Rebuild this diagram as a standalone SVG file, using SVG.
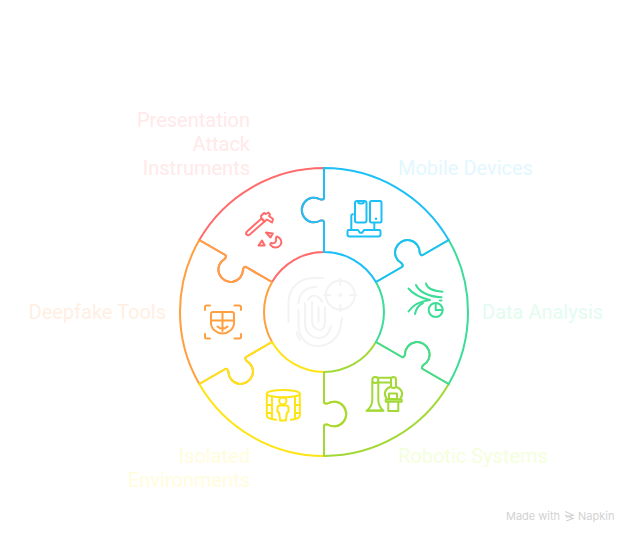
<svg xmlns="http://www.w3.org/2000/svg" xmlns:xlink="http://www.w3.org/1999/xlink" width="636" height="540" viewBox="0 0 636 540">
<style>
text{font-family:Roboto,"Liberation Sans",sans-serif;font-size:20px}
.e{text-anchor:end}
.seg,.ic{fill:none;stroke-linecap:round;stroke-linejoin:round}
.seg{stroke-width:2}
.ic{stroke-width:2}
.red{stroke:#FF6B6B}.org{stroke:#FF9F40}.yel{stroke:#FFE414}.lim{stroke:#A2D936}.grn{stroke:#3DDC97}.blu{stroke:#1CC0F6}
.fp{fill:none;stroke:#F3F3F3;stroke-width:2;stroke-linecap:round}
</style>
<defs>
<path id="piece" d="M0,-60L0,-90Q0,-92 -3.5,-91.5A12.3,12.3 0 1 1 -3.5,-112.5Q0,-112 0,-114L0,-144A144,144 0 0 1 124.71,-72L98.73,-57Q96.99,-56 95.68,-59.28A12.3,12.3 0 1 0 77.49,-48.78Q79.67,-46 77.94,-45L51.96,-30A60,60 0 0 0 0,-60Z"/>
</defs>
<g id="connectors" class="seg" transform="translate(324,312)">
<use xlink:href="#piece" href="#piece" class="red" transform="rotate(300)"/>
<use xlink:href="#piece" href="#piece" class="org" transform="rotate(240)"/>
<use xlink:href="#piece" href="#piece" class="yel" transform="rotate(180)"/>
<use xlink:href="#piece" href="#piece" class="lim" transform="rotate(120)"/>
<use xlink:href="#piece" href="#piece" class="grn" transform="rotate(60)"/>
<use xlink:href="#piece" href="#piece" class="blu"/>
</g>
<g id="center" class="fp">
<circle cx="340.3" cy="295" r="14.5"/>
<path d="M340.3,278.5V285M340.3,305V311.5M324,295H330.500M350,295H356.500"/>
<circle cx="340.3" cy="295" r="0.8" fill="#F3F3F3"/>
<path d="M288.500,322V301C289,288 300,278 313,278H323"/>
<path d="M298.500,303C299,293 306,287 316,287"/>
<path d="M296.500,332C297,335 298,337 300,340"/>
<path d="M298.500,310V327C299,338 307,346 317,346C326,346 335,342 340,330L342,318"/>
<path d="M305,303V325C305,332 312,338 319,338C325,338 329,334 331,326"/>
<path d="M308,300C310,295 318,293 322,302"/>
<path d="M312,302V320C312,327 316,330 320,330C324,330 325,326 325,320V307"/>
<path d="M318.500,307V322"/>
</g>
<g id="mobile-devices">
<g class="ic blu">
<rect x="355" y="201" width="11.500" height="21.500" rx="2"/>
<path d="M358,201Q358,203.500 360,203.500H362Q364,203.500 364,201"/>
<rect x="370" y="201" width="11.500" height="21.500" rx="1.500"/>
<path d="M351.300,230V216Q351.300,214.300 353,214.300M374.300,223V230"/>
<path d="M348.500,230H358L360,232.800H362L364,230H379.500Q380.500,230 380.500,232V234.500Q380.500,236.500 378.500,236.500H349.500Q347.500,236.500 347.500,234.500V232Q347.500,230 348.500,230Z"/>
</g>
<circle cx="376" cy="218.700" r="1.200" fill="#1CC0F6"/>
<text x="398" y="175" fill="#E3F7FF">Mobile Devices</text>
</g>
<g id="data-analysis">
<g class="ic grn">
<path d="M426,283.500C427,288 433,291 442.500,291.700"/>
<path d="M416,285C419,292 429,296.500 441.500,297.300"/>
<path d="M408.500,288.500C413,294 421,298 430,300C421,301 413,305 408.500,311.500"/>
<path d="M415,314C416,309 419,305 423,303"/>
<circle cx="435.700" cy="310" r="7"/>
<path d="M435.700,303V310H442.500"/>
<path d="M440,300.500H441.500"/>
</g>
<text x="482" y="319" fill="#E3FCF1">Data Analysis</text>
</g>
<g id="robotic-systems">
<g class="ic lim">
<path d="M372.300,382V400C372.300,405 370,408 367,410.500H383C380.500,408 378.300,405 378.300,400V382"/>
<path d="M366.500,410.700H383.500"/>
<circle cx="375.300" cy="380" r="3"/>
<path d="M378,377.800H391M378,382.600H391"/>
<rect x="391" y="377" width="5" height="11" rx="2.500"/>
<path d="M390,387C385,389 383,394 387,399M396.500,387C402,389 404,394 400,399"/>
<path d="M389,393.500H397V399H389Z"/>
<path d="M385.700,399.500H401.700V401.700H385.700Z"/>
<path d="M388.300,401.700V411H398.300V401.700"/>
</g>
<text x="398" y="463" fill="#F3FFDC">Robotic Systems</text>
</g>
<g id="isolated-environments">
<g class="ic yel">
<ellipse cx="283.300" cy="393.700" rx="16.500" ry="3.700"/>
<path d="M266.800,393.700V416C266.800,418 270,419 276,419.800M299.800,393.700V416C299.800,418 296.500,419 291,419.800"/>
<path d="M272,397V419M295,397V419"/>
<path d="M267,405H272M267,413H272M295,405H300M295,413H300"/>
<circle cx="282.800" cy="400.800" r="3.600"/>
<path d="M279.500,405.500H286.500Q288.500,405.500 288.500,408V411.500Q288.500,412.500 287,412.500L285.800,420.500H280.200L279,412.500Q277.500,412.500 277.500,411.500V408Q277.500,405.500 279.500,405.500Z"/>
</g>
<text class="e" x="250" y="463" fill="#FFFDDC">Isolated</text>
<text class="e" x="250" y="487" fill="#FFFDDC">Environments</text>
</g>
<g id="deepfake-tools">
<g class="ic org">
<path d="M205,310V307Q205,305.500 206.500,305.500H210M234.500,305.500H239Q241,305.500 241,307.500V310M205,334V337Q205,338.500 206.500,338.500H210M234.500,338.500H239Q241,338.500 241,337V334"/>
<path d="M213,312H232Q234,312 234,314V323C234,329 228,333.500 222.500,333.500C217,333.500 211,329 211,323V314Q211,312 213,312Z"/>
<path d="M222.500,312V331M211,320.500H234M217.500,326.500Q222.500,331 227.500,326.500"/>
</g>
<text class="e" x="166" y="319" fill="#FFEFE3">Deepfake Tools</text>
</g>
<g id="presentation-attack-instruments">
<g class="ic red">
<path d="M247,231.500L261.500,218.500L264.500,221.500L249.800,234.500Q248,236 246.500,234.500Q245.500,233 247,231.500Z"/>
<path d="M261.500,218.500L261,216L264,213L266,214L268.500,212.500L270,214.500L269,216L273,219L272,222.500L267,219.500L264.500,221.500Z"/>
<path d="M262,240.500L258.500,245.500H264.700Z"/>
<path d="M266,232.500L272.800,233.500L270.500,237.500Z"/>
<path d="M277,236.500C281,238 282.500,242 280.500,245C278,248.500 272.500,248 270.500,245C270,244 270.500,243 271.500,243C274,244 277,242 276,238Q276,236.500 277,236.500Z"/>
</g>
<text class="e" x="250" y="127" fill="#FFE9E9">Presentation</text>
<text class="e" x="250" y="151" fill="#FFE9E9">Attack</text>
<text class="e" x="250" y="175" fill="#FFE9E9">Instruments</text>
</g>
<g id="watermark">
<text x="506" y="520" style="font-family:Inter,'Liberation Sans',sans-serif;font-size:11px" fill="#D2D2D2">Made with</text>
<path d="M565,511.500L573,515L566,517M565,515L573,518.500L566,521" fill="none" stroke="#D2D2D2" stroke-width="1.300"/>
<text x="578" y="520" style="font-family:Inter,'Liberation Sans',sans-serif;font-size:11px" fill="#D2D2D2">Napkin</text>
</g>
</svg>
